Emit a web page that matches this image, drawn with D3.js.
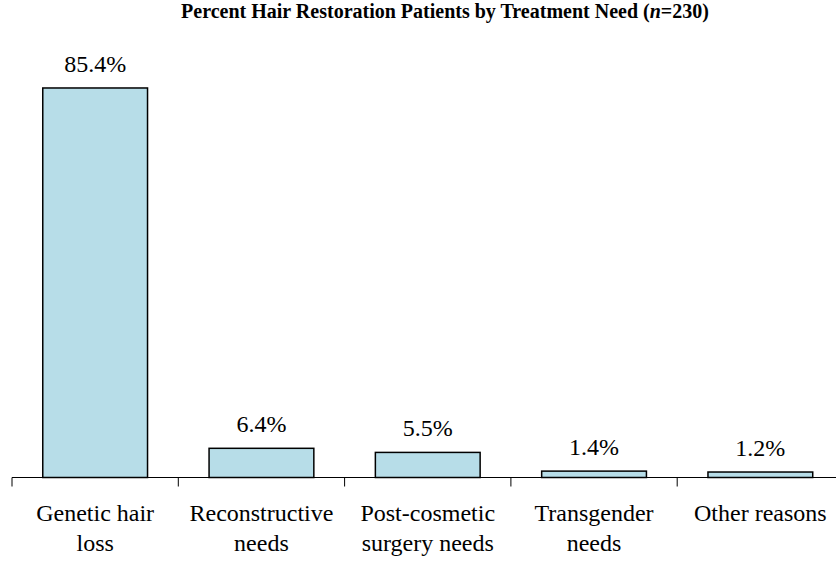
<!DOCTYPE html>
<html><head><meta charset="utf-8">
<script src="https://cdn.jsdelivr.net/npm/d3@7"></script>
<style>body{margin:0;background:#fff}</style>
</head><body>
<svg id="c" width="836" height="561"></svg>
<script>
const categories = [["Genetic hair","loss"],["Reconstructive","needs"],["Post-cosmetic","surgery needs"],["Transgender","needs"],["Other reasons"]];
const values = [85.4, 6.4, 5.5, 1.4, 1.2];
const valueLabels = ["85.4%","6.4%","5.5%","1.4%","1.2%"];

const svg = d3.select("#c");
const x = d3.scaleBand().domain(d3.range(values.length)).range([12, 843.5]).paddingInner(0.37).paddingOuter(0.185);
const y = d3.scaleLinear().domain([0, 90]).range([477.5, 67]);

function centerText(sel, cx) {
  sel.each(function(){
    const w = this.getComputedTextLength();
    d3.select(this).attr("x", cx - w/2);
  });
}

svg.selectAll("rect.bar").data(values).join("rect").attr("class","bar")
  .attr("x",(d,i)=>x(i)).attr("width",x.bandwidth())
  .attr("y",d=>y(d)).attr("height",d=>y(0)-y(d))
  .attr("fill","#b7dde8").attr("stroke","#000").attr("stroke-width",1.5);

const step = x.step();
svg.append("line").attr("x1",12).attr("x2",843.5).attr("y1",477.5).attr("y2",477.5).attr("stroke","#000").attr("stroke-width",1);
const tickXs = d3.range(values.length+1).map(i => 12 + i*step);
svg.selectAll("line.tick").data(tickXs).join("line").attr("class","tick")
  .attr("x1",d=>d).attr("x2",d=>d).attr("y1",477.5).attr("y2",486.5).attr("stroke","#000");

// value labels
values.forEach((v,i) => {
  const el = svg.append("text").attr("y", y(v)-16)
    .attr("font-size",24).style("font-family","'Times New Roman'").text(valueLabels[i]);
  centerText(el, x(i)+x.bandwidth()/2);
});

// category labels
categories.forEach((lines,i) => {
  lines.forEach((ln,j) => {
    const el = svg.append("text").attr("y", 520.5+j*30)
      .attr("font-size",24).style("font-family","'Times New Roman'").text(ln);
    centerText(el, x(i)+x.bandwidth()/2);
  });
});

// title
const t = svg.append("text").attr("y", 17.5)
  .style("font-family","'Times New Roman'").attr("font-weight","bold").attr("font-size", 20);
t.append("tspan").text("Percent Hair Restoration Patients by Treatment Need (");
t.append("tspan").attr("font-style","italic").text("n");
t.append("tspan").text("=230)");
const tw = t.node().getComputedTextLength();
t.attr("x", 445 - tw/2);
</script>
</body></html>
